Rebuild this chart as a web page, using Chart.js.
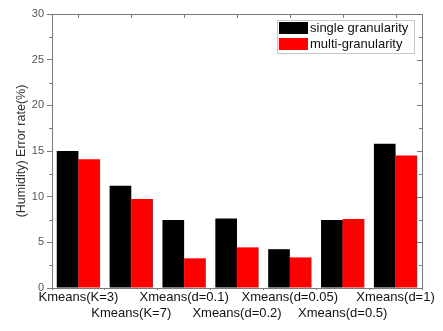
<!DOCTYPE html>
<html>
<head>
<meta charset="utf-8">
<script src="https://cdn.jsdelivr.net/npm/chart.js@4/dist/chart.umd.min.js"></script>
<style>
  html, body { margin: 0; padding: 0; background: #fff; }
  #wrap { width: 443px; height: 331px; }
</style>
</head>
<body>
<div id="wrap"><canvas id="myChart" width="443" height="331"></canvas></div>
<script>
// categories, alternating rows on the x axis
var categories = ['Kmeans(K=3)', 'Kmeans(K=7)', 'Xmeans(d=0.1)', 'Xmeans(d=0.2)',
                  'Xmeans(d=0.05)', 'Xmeans(d=0.5)', 'Xmeans(d=1)'];
var singleGran = [15.0, 11.2, 7.45, 7.6, 4.25, 7.45, 15.8];
var multiGran = [14.1, 9.75, 3.25, 4.45, 3.35, 7.55, 14.5];
var yTicks = [0, 5, 10, 15, 20, 25, 30];

var axisGrey = '#7a7a7a';

// frame + inward/minor ticks like origin plots
var framePlugin = {
    id: 'frame',
    afterDraw: function (chart) {
        var c = chart.ctx, a = chart.chartArea;
        var ys = chart.scales.y, xs = chart.scales.x;
        c.save();
        c.strokeStyle = axisGrey;
        c.lineWidth = 1;
        c.strokeRect(Math.round(a.left) + 0.5, Math.round(a.top) + 0.5,
            Math.round(a.right - a.left), Math.round(a.bottom - a.top));
        c.beginPath();
        for (var v = 0; v <= 30; v += 2.5) {
            var py = Math.round(ys.getPixelForValue(v)) + 0.5;
            var major = (v % 5 === 0);
            if (!major) {
                c.moveTo(a.left - 3, py); c.lineTo(a.left, py);
            }
            c.moveTo(a.right, py); c.lineTo(a.right - (major ? 5 : 3), py);
        }
        for (var i = 0; i < categories.length; i++) {
            var px = Math.round(xs.getPixelForValue(i)) + 0.5;
            c.moveTo(px, a.top); c.lineTo(px, a.top + 4);
        }
        c.stroke();
        c.restore();
    }
};

// legend box in the top right corner
var boxLegend = {
    id: 'boxLegend',
    afterDraw: function (chart) {
        var c = chart.ctx;
        var x = 277, y = 20, w = 137, h = 33;
        c.save();
        c.fillStyle = '#fff';
        c.fillRect(x, y, w, h);
        c.strokeStyle = '#c8c8c8';
        c.lineWidth = 1;
        c.strokeRect(x + 0.5, y + 0.5, w, h);
        c.font = '13px "Liberation Sans", Arial, sans-serif';
        c.textBaseline = 'middle';
        chart.data.datasets.forEach(function (ds, i) {
            var ry = y + 2 + i * 16;
            c.fillStyle = ds.backgroundColor;
            c.fillRect(x + 2, ry, 29, 12);
            c.fillStyle = '#111';
            c.fillText(ds.label, x + 33, ry + 6.5);
        });
        c.restore();
    }
};

var labels = categories.map(function (s, i) { return i % 2 === 0 ? [s] : ['', s]; });

var ctx = document.getElementById('myChart').getContext('2d');
var myChart = new Chart(ctx, {
    type: 'bar',
    data: {
        labels: labels,
        datasets: [{
            label: 'single granularity',
            data: singleGran,
            backgroundColor: '#000000'
        }, {
            label: 'multi-granularity',
            data: multiGran,
            backgroundColor: '#ff0000'
        }]
    },
    options: {
        responsive: false,
        animation: false,
        layout: { padding: { left: 12, right: 21, top: 14, bottom: 0 } },
        plugins: {
            legend: { display: false },
            tooltip: { enabled: false }
        },
        datasets: {
            bar: { categoryPercentage: 0.82, barPercentage: 1.0 }
        },
        scales: {
            x: {
                grid: { display: true, drawOnChartArea: false, tickLength: 2, color: axisGrey },
                border: { color: axisGrey },
                ticks: {
                    autoSkip: false, maxRotation: 0, minRotation: 0, padding: -1,
                    color: '#111',
                    font: { family: '"Liberation Sans", Arial, sans-serif', size: 13, lineHeight: 1.25 }
                },
                afterFit: function (s) { s.height = 43; }
            },
            y: {
                min: 0, max: 30,
                afterBuildTicks: function (s) { s.ticks = yTicks.map(function (v) { return { value: v }; }); },
                grid: { display: true, drawOnChartArea: false, tickLength: 5, color: axisGrey },
                border: { color: axisGrey },
                ticks: {
                    padding: 3, color: '#555',
                    font: { family: '"Liberation Sans", Arial, sans-serif', size: 11 }
                },
                title: {
                    display: true, text: '(Humidity) Error rate(%)', color: '#333', padding: 2,
                    font: { family: '"Liberation Sans", Arial, sans-serif', size: 12.5 }
                },
                afterFit: function (s) { s.width = 40; }
            }
        }
    },
    plugins: [framePlugin, boxLegend]
});
</script>
</body>
</html>
